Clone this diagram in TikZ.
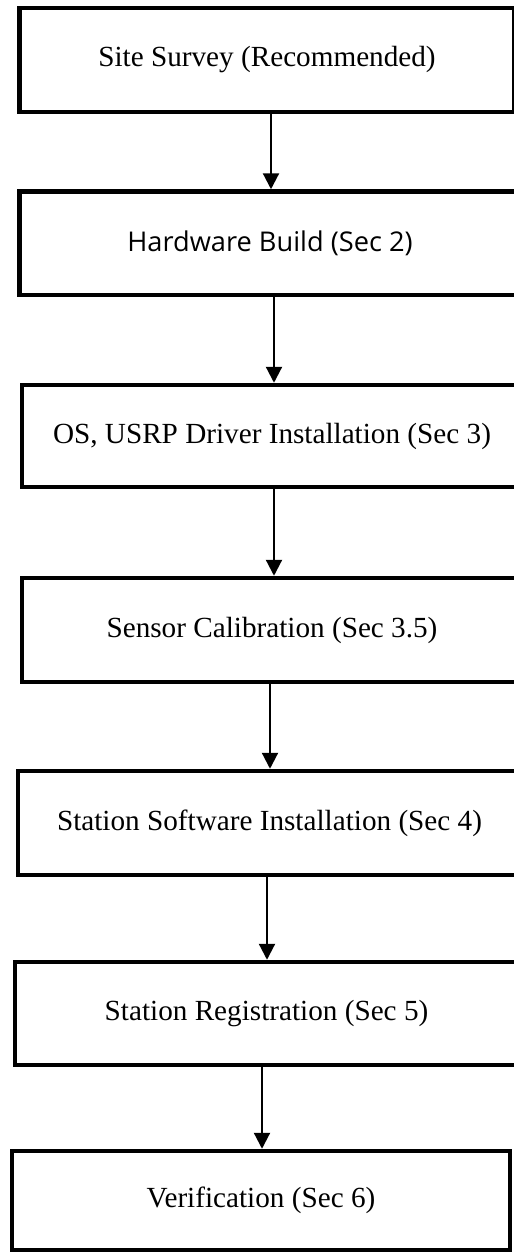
\documentclass[tikz,border=0pt]{standalone}
\usepackage{fontspec}
\setmainfont{Liberation Serif}
\newfontfamily\sansf{Open Sans}
\usetikzlibrary{arrows.meta}
\begin{document}
\begin{tikzpicture}[x=0.5pt,y=-0.5pt,
  stepbox/.style={draw=black, line width=2.25pt, rectangle, inner sep=0pt,
    fill=white, font=\fontsize{14.6pt}{17pt}\selectfont},
  arr/.style={draw=black, line width=1.1pt, -{Triangle[width=8pt,length=8pt]}}]
\useasboundingbox (0,0) rectangle (514,1253);
\clip (0,0) rectangle (514,1253);
\fill[white] (0,0) rectangle (514,1253);
% boxes: center x, center y, width (px), height (px)
\node[stepbox, minimum width=247.5pt, minimum height=52pt] (b1) at (267,60) {Site Survey (Recommended)};
\node[stepbox, minimum width=250.5pt, minimum height=51.75pt, font=\sansf\fontsize{13.6pt}{16pt}\selectfont] (b2) at (270,243.25) {Hardware Build (Sec 2)};
\node[stepbox, minimum width=250pt, minimum height=51pt] (b3) at (272,436) {OS, USRP Driver Installation (Sec 3)};
\node[stepbox, minimum width=250pt, minimum height=52pt] (b4) at (272,630) {Sensor Calibration (Sec 3.5)};
\node[stepbox, minimum width=251.5pt, minimum height=52pt] (b5) at (269.5,823) {Station Software Installation (Sec 4)};
\node[stepbox, minimum width=251.5pt, minimum height=51.5pt] (b6) at (266.5,1013.5) {Station Registration (Sec 5)};
\node[stepbox, minimum width=249pt, minimum height=49.5pt] (b7) at (261,1200.5) {Verification (Sec 6)};
% arrows (vertical)
\draw[arr] ([xshift=2pt]b1.south) -- ([xshift=0.5pt]b2.north);
\draw[arr] ([xshift=2pt]b2.south) -- ([xshift=1pt]b3.north);
\draw[arr] ([xshift=1pt]b3.south) -- ([xshift=1pt]b4.north);
\draw[arr] ([xshift=-1pt]b4.south) -- ([xshift=0.25pt]b5.north);
\draw[arr] ([xshift=-1.25pt]b5.south) -- ([xshift=0.25pt]b6.north);
\draw[arr] ([xshift=-2.25pt]b6.south) -- ([xshift=0.5pt]b7.north);
\end{tikzpicture}
\end{document}
